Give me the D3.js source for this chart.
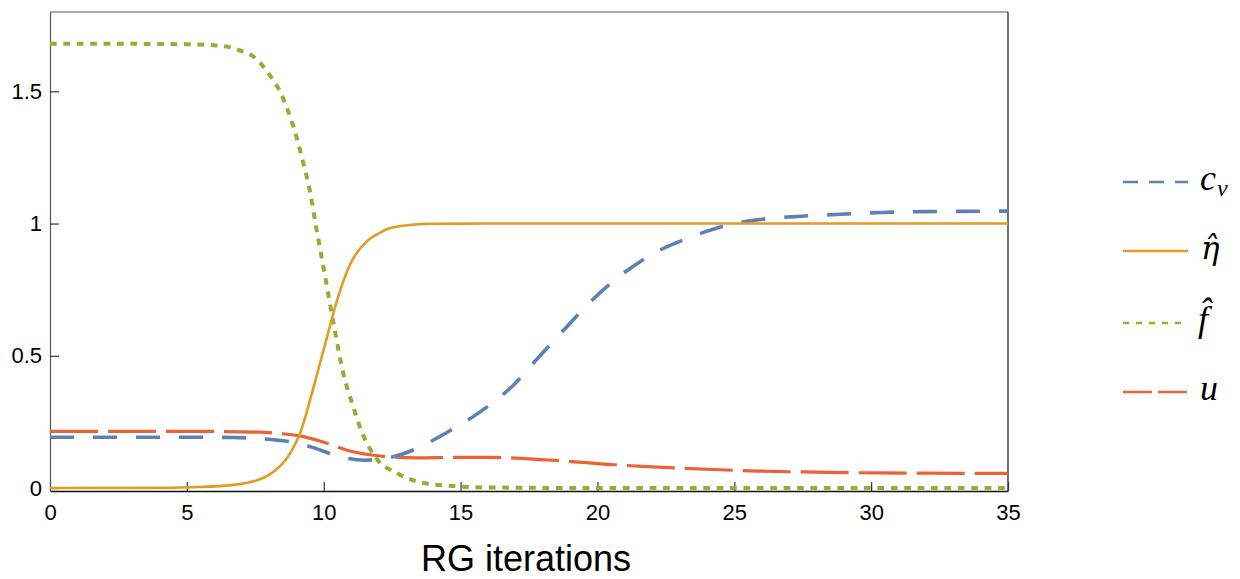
<!DOCTYPE html>
<html>
<head>
<meta charset="utf-8">
<script src="https://cdn.jsdelivr.net/npm/d3@7"></script>
<style>
  body { margin: 0; background: #fff; }
  svg { display: block; }
</style>
</head>
<body>
<div class="chart"></div>
<script>
// values
var xTicks = [0, 5, 10, 15, 20, 25, 30, 35];
var yTicks = [0, 0.5, 1, 1.5];
var yTickLabels = ["0", "0.5", "1", "1.5"];

var cvX = [0, 5, 6.7, 7.5, 8.3, 9.13, 9.75, 10.6, 11.5, 12.2, 12.6, 13.3, 14.5, 15.7, 16.9, 17.9, 18.9, 19.84, 20.8, 22, 23.4, 24.6, 25.7, 27.3, 28.9, 30.4, 32, 35];
var cvY = [0.192, 0.192, 0.191, 0.188, 0.181, 0.168, 0.148, 0.118, 0.105, 0.112, 0.12, 0.145, 0.21, 0.287, 0.386, 0.5, 0.612, 0.714, 0.8, 0.884, 0.948, 0.99, 1.012, 1.027, 1.035, 1.042, 1.045, 1.047];

var etaX = [0, 4, 5.5, 6.6, 7.3, 7.7, 8.0, 8.3, 8.6, 8.85, 9.13, 9.6, 10.1, 10.5, 10.96, 11.6, 12.0, 12.4, 13.3, 14, 16, 35];
var etaY = [0, 0.001, 0.004, 0.011, 0.022, 0.034, 0.05, 0.073, 0.105, 0.145, 0.205, 0.37, 0.563, 0.714, 0.845, 0.935, 0.962, 0.982, 0.996, 0.999, 1, 1];

var fX = [0, 2, 4, 5, 6, 6.5, 7, 7.4, 8, 8.4, 8.7, 9, 9.25, 9.5, 9.7, 10, 10.4, 10.7, 11.07, 11.4, 11.9, 12.7, 13.6, 14.9, 16, 20, 35];
var fY = [1.68, 1.68, 1.679, 1.678, 1.674, 1.668, 1.652, 1.634, 1.565, 1.5, 1.425, 1.33, 1.23, 1.12, 1.0, 0.83, 0.6, 0.44, 0.31, 0.21, 0.115, 0.055, 0.02, 0.006, 0.002, 0, 0];

var uX = [0, 5.5, 7.67, 8.5, 9.13, 10, 10.96, 12.06, 13.4, 15, 16, 18.2, 20.6, 22, 24.2, 25.9, 28, 30.2, 32, 35];
var uY = [0.214, 0.214, 0.211, 0.205, 0.197, 0.173, 0.14, 0.121, 0.114, 0.116, 0.116, 0.106, 0.088, 0.08, 0.07, 0.064, 0.06, 0.057, 0.056, 0.055];

var series = [
  { name: "cv", xs: cvX, ys: cvY, color: "#5E81B5", width: 3.6, dash: "24,19", legDash: "15,11" },
  { name: "eta", xs: etaX, ys: etaY, color: "#E19C24", width: 2.6, dash: null, legDash: null },
  { name: "f", xs: fX, ys: fY, color: "#8FB032", width: 4, dash: "6.7,6.7", legDash: "6,7" },
  { name: "u", xs: uX, ys: uY, color: "#EB6235", width: 3.2, dash: "48,10", legDash: "29,6" }
];

var svgWidth = 1240;
var svgHeight = 579;

var svg = d3.select(".chart")
  .append("svg")
  .attr("width", svgWidth)
  .attr("height", svgHeight);

var x = d3.scaleLinear().domain([0, 35]).range([50, 1008]);
var y = d3.scaleLinear().domain([-0.0113, 1.8]).range([491, 12]);

svg.append("clipPath").attr("id", "clip")
  .append("rect")
  .attr("x", 50).attr("y", 12)
  .attr("width", 958).attr("height", 479);

// frame
svg.append("line").attr("x1", 50).attr("x2", 1008).attr("y1", 12).attr("y2", 12)
  .attr("stroke", "#555").attr("stroke-width", 1.2);
svg.append("line").attr("x1", 1008).attr("x2", 1008).attr("y1", 12).attr("y2", 491)
  .attr("stroke", "#111").attr("stroke-width", 1.2);

// axes with inward ticks
var bottomAxis = d3.axisBottom(x).tickValues(xTicks).tickSizeInner(-9).tickSizeOuter(0).tickPadding(13);
var leftAxis = d3.axisLeft(y).tickValues(yTicks).tickFormat((d, i) => yTickLabels[i]).tickSizeInner(-9).tickSizeOuter(0).tickPadding(8);

var gx = svg.append("g").attr("transform", "translate(0,491)").call(bottomAxis);
gx.select(".domain").attr("stroke", "#111").attr("stroke-width", 1.4);
gx.selectAll(".tick line").attr("stroke", "#333").attr("stroke-width", 1.2);
gx.selectAll(".tick text")
  .attr("font-family", "'Liberation Sans', Arial, sans-serif")
  .attr("font-size", 22).attr("fill", "#000");

var gy = svg.append("g").attr("transform", "translate(50,0)").call(leftAxis);
gy.select(".domain").attr("stroke", "#555").attr("stroke-width", 1.2);
gy.selectAll(".tick line").attr("stroke", "#333").attr("stroke-width", 1.2);
gy.selectAll(".tick text")
  .attr("font-family", "'Liberation Sans', Arial, sans-serif")
  .attr("font-size", 22).attr("fill", "#000");

// curves
var lineGen = d3.line()
  .x(d => x(d[0]))
  .y(d => y(d[1]))
  .curve(d3.curveMonotoneX);

var plot = svg.append("g").attr("clip-path", "url(#clip)");
var drawOrder = ["u", "cv", "f", "eta"];
drawOrder.forEach(function(n) {
  var s = series.find(d => d.name === n);
  var pts = s.xs.map((v, i) => [v, s.ys[i]]);
  plot.append("path")
    .datum(pts)
    .attr("d", lineGen)
    .attr("fill", "none")
    .attr("stroke", s.color)
    .attr("stroke-width", s.width)
    .attr("stroke-dasharray", s.dash);
});

// x axis title
svg.append("text")
  .attr("x", 526).attr("y", 571)
  .attr("text-anchor", "middle")
  .attr("font-family", "'Liberation Sans', Arial, sans-serif")
  .attr("font-size", 36)
  .text("RG iterations");

// legend
var legY = [182, 251, 323, 392];
var leg = svg.append("g");
series.forEach(function(s, i) {
  leg.append("line")
    .attr("x1", 1123).attr("x2", 1188)
    .attr("y1", legY[i]).attr("y2", legY[i])
    .attr("stroke", s.color)
    .attr("stroke-width", 2.4)
    .attr("stroke-dasharray", s.legDash);
});

var serif = "'Liberation Serif', 'Times New Roman', serif";
function legText(xp, yp, fam, size) {
  return leg.append("text")
    .attr("x", xp).attr("y", yp)
    .attr("font-family", fam || serif)
    .attr("font-style", "italic")
    .attr("font-size", size || 36);
}
// c with subscript v
var t0 = legText(1200, legY[0] + 8);
t0.append("tspan").text("c");
t0.append("tspan").attr("font-size", 24).attr("dy", 6).attr("dx", 1).text("v");

// hatted symbols with a combining circumflex
legText(1201, legY[1] + 8, "'DejaVu Serif', serif", 31).text("η\u0302");
legText(1198, legY[2] + 8).text("f\u0302");

legText(1200, legY[3] + 8).text("u");
</script>
</body>
</html>
